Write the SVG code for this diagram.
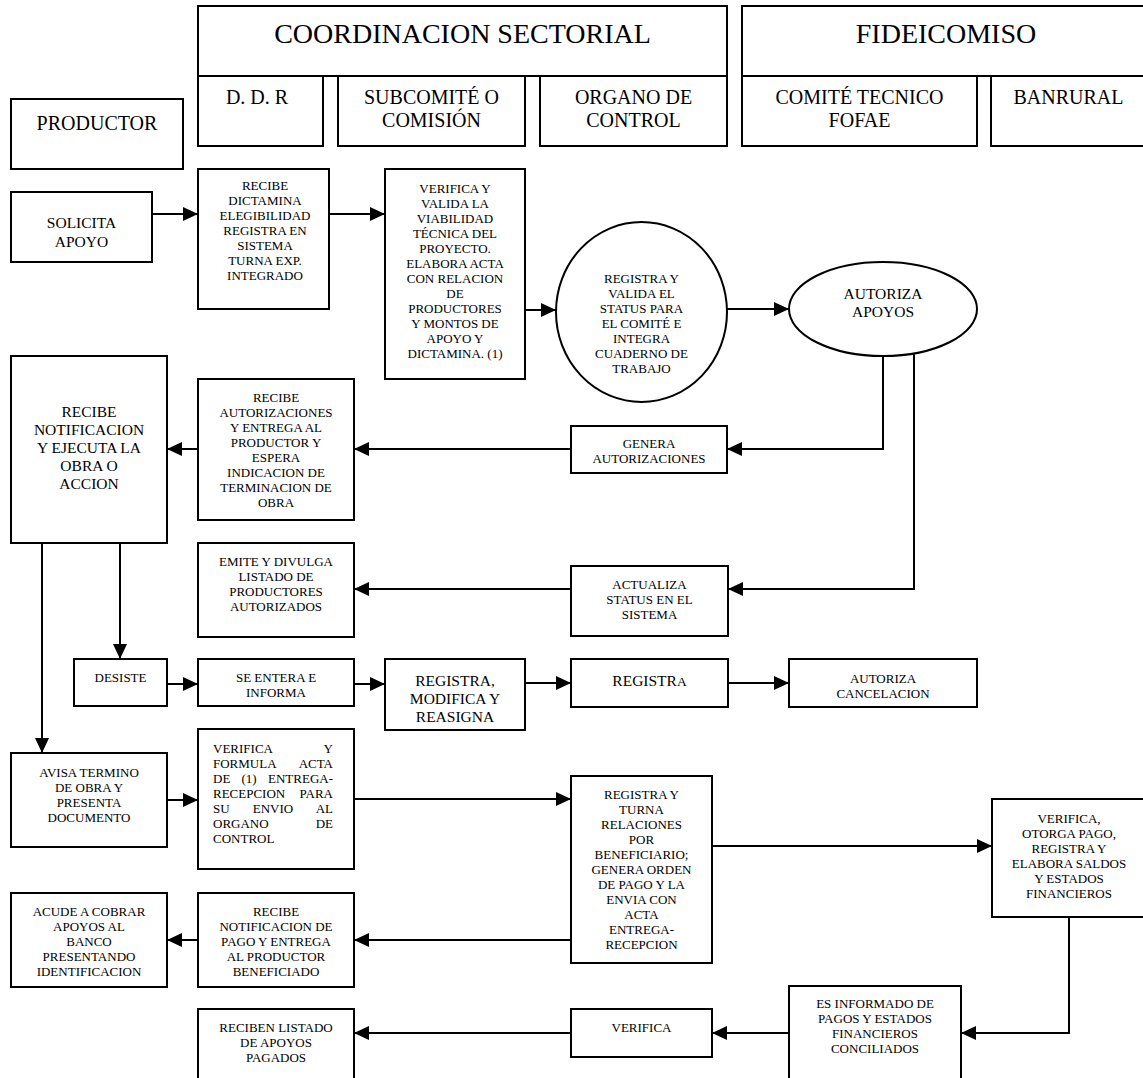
<svg xmlns="http://www.w3.org/2000/svg" width="1143" height="1078" viewBox="0 0 1143 1078">
<style>
.b{fill:#fff;stroke:#000;stroke-width:2}
.c{fill:none;stroke:#000;stroke-width:2;marker-end:url(#arr)}
.l{fill:none;stroke:#000;stroke-width:2}
text{font-family:"Liberation Serif","Times New Roman",serif;fill:#000;text-anchor:middle}
.h1{font-size:28px}
.h2{font-size:20px}
.m{font-size:15.5px}
.s{font-size:13px}
.st{font-size:13px;text-anchor:start}
.en{font-size:13px;text-anchor:end}
</style>
<defs>
<marker id="arr" markerUnits="userSpaceOnUse" markerWidth="16" markerHeight="14" refX="15" refY="7" orient="auto"><path d="M0,0 L15,7 L0,14 Z" fill="#000"/></marker>
</defs>
<rect width="1143" height="1078" fill="#fff"/>

<g id="coordinacion"><rect class="b" x="198" y="6" width="529" height="70"/><text class="h1" x="462.5" y="43">COORDINACION SECTORIAL</text></g>
<g id="ddr"><rect class="b" x="198" y="76" width="125" height="70"/><text class="h2" x="257" y="104">D. D. R</text></g>
<g id="subcomite"><rect class="b" x="338" y="76" width="187" height="70"/><text class="h2"><tspan x="431.5" y="104">SUBCOMITÉ O</tspan><tspan x="431.5" y="127">COMISIÓN</tspan></text></g>
<g id="organo"><rect class="b" x="540" y="76" width="187" height="70"/><text class="h2"><tspan x="633.5" y="104">ORGANO DE</tspan><tspan x="633.5" y="127">CONTROL</tspan></text></g>
<g id="fideicomiso"><rect class="b" x="742" y="6" width="410" height="70"/><text class="h1" x="946" y="43">FIDEICOMISO</text></g>
<g id="comite"><rect class="b" x="742" y="76" width="235" height="70"/><text class="h2"><tspan x="859.5" y="104">COMITÉ TECNICO</tspan><tspan x="859.5" y="127">FOFAE</tspan></text></g>
<g id="banrural"><rect class="b" x="991" y="76" width="160" height="70"/><text class="h2" x="1068.5" y="104">BANRURAL</text></g>
<g id="productor"><rect class="b" x="11" y="99" width="172" height="70"/><text class="h2" x="97" y="130">PRODUCTOR</text></g>

<g id="connectors">
<path class="c" d="M152,214 H198"/>
<path class="c" d="M329,214 H385"/>
<path class="c" d="M525,310 H556"/>
<path class="c" d="M727,309 H789"/>
<path class="c" d="M883,356 V449 H727"/>
<path class="c" d="M914,353 V589 H728"/>
<path class="c" d="M571,449 H354"/>
<path class="c" d="M198,449 H167"/>
<path class="c" d="M571,589 H354"/>
<path class="c" d="M42,543 V753"/>
<path class="c" d="M120,543 V659"/>
<path class="c" d="M167,684 H198"/>
<path class="c" d="M354,684 H385"/>
<path class="c" d="M525,683 H571"/>
<path class="c" d="M728,683 H789"/>
<path class="c" d="M167,800 H198"/>
<path class="c" d="M354,799 H571"/>
<path class="c" d="M712,846 H992"/>
<path class="c" d="M571,940 H354"/>
<path class="c" d="M198,940 H167"/>
<path class="c" d="M1069,917 V1033 H961"/>
<path class="c" d="M789,1033 H712"/>
<path class="c" d="M571,1033 H354"/>
</g>

<g id="solicita"><rect class="b" x="11" y="192" width="141" height="70"/><text class="m"><tspan x="81.5" y="228">SOLICITA</tspan><tspan x="81.5" y="247">APOYO</tspan></text></g>

<g id="recibe-dictamina"><rect class="b" x="198" y="169" width="131" height="140"/><text class="s">
<tspan x="265" y="190">RECIBE</tspan><tspan x="265" y="205">DICTAMINA</tspan><tspan x="265" y="220">ELEGIBILIDAD</tspan><tspan x="265" y="235">REGISTRA EN</tspan><tspan x="265" y="250">SISTEMA</tspan><tspan x="265" y="265">TURNA EXP.</tspan><tspan x="265" y="280">INTEGRADO</tspan></text></g>

<g id="verifica-valida"><rect class="b" x="385" y="169" width="140" height="210"/><text class="s">
<tspan x="455" y="193">VERIFICA Y</tspan><tspan x="455" y="208">VALIDA LA</tspan><tspan x="455" y="223">VIABILIDAD</tspan><tspan x="455" y="238">TÉCNICA DEL</tspan><tspan x="455" y="253">PROYECTO.</tspan><tspan x="455" y="268">ELABORA ACTA</tspan><tspan x="455" y="283">CON RELACION</tspan><tspan x="455" y="298">DE</tspan><tspan x="455" y="313">PRODUCTORES</tspan><tspan x="455" y="328">Y MONTOS DE</tspan><tspan x="455" y="343">APOYO Y</tspan><tspan x="455" y="358">DICTAMINA. (1)</tspan></text></g>

<g id="registra-valida"><ellipse class="b" cx="641.5" cy="312" rx="85.5" ry="90"/><text class="s">
<tspan x="641.5" y="283">REGISTRA Y</tspan><tspan x="641.5" y="298">VALIDA EL</tspan><tspan x="641.5" y="313">STATUS PARA</tspan><tspan x="641.5" y="328">EL COMITÉ E</tspan><tspan x="641.5" y="343">INTEGRA</tspan><tspan x="641.5" y="358">CUADERNO DE</tspan><tspan x="641.5" y="373">TRABAJO</tspan></text></g>

<g id="autoriza-apoyos"><ellipse class="b" cx="883" cy="309" rx="94" ry="47"/><text class="m"><tspan x="883" y="299">AUTORIZA</tspan><tspan x="883" y="317">APOYOS</tspan></text></g>

<g id="genera"><rect class="b" x="571" y="426" width="156" height="47"/><text class="s"><tspan x="649" y="448">GENERA</tspan><tspan x="649" y="463">AUTORIZACIONES</tspan></text></g>

<g id="recibe-autorizaciones"><rect class="b" x="198" y="379" width="156" height="141"/><text class="s">
<tspan x="276" y="402">RECIBE</tspan><tspan x="276" y="417">AUTORIZACIONES</tspan><tspan x="276" y="432">Y ENTREGA AL</tspan><tspan x="276" y="447">PRODUCTOR Y</tspan><tspan x="276" y="462">ESPERA</tspan><tspan x="276" y="477">INDICACION DE</tspan><tspan x="276" y="492">TERMINACION DE</tspan><tspan x="276" y="507">OBRA</tspan></text></g>

<g id="recibe-notificacion"><rect class="b" x="11" y="356" width="156" height="187"/><text class="m">
<tspan x="89" y="417">RECIBE</tspan><tspan x="89" y="435">NOTIFICACION</tspan><tspan x="89" y="453">Y EJECUTA LA</tspan><tspan x="89" y="471">OBRA O</tspan><tspan x="89" y="489">ACCION</tspan></text></g>

<g id="actualiza"><rect class="b" x="571" y="566" width="157" height="70"/><text class="s"><tspan x="649.5" y="589">ACTUALIZA</tspan><tspan x="649.5" y="604">STATUS EN EL</tspan><tspan x="649.5" y="619">SISTEMA</tspan></text></g>

<g id="emite"><rect class="b" x="198" y="543" width="156" height="94"/><text class="s"><tspan x="276" y="566">EMITE Y DIVULGA</tspan><tspan x="276" y="581">LISTADO DE</tspan><tspan x="276" y="596">PRODUCTORES</tspan><tspan x="276" y="611">AUTORIZADOS</tspan></text></g>

<g id="desiste"><rect class="b" x="74" y="659" width="93" height="47"/><text class="s" x="120.5" y="682">DESISTE</text></g>

<g id="se-entera"><rect class="b" x="198" y="659" width="156" height="47"/><text class="s"><tspan x="276" y="682">SE ENTERA E</tspan><tspan x="276" y="697">INFORMA</tspan></text></g>

<g id="registra-modifica"><rect class="b" x="385" y="659" width="140" height="71"/><text class="m"><tspan x="455" y="686">REGISTRA,</tspan><tspan x="455" y="704">MODIFICA Y</tspan><tspan x="455" y="722">REASIGNA</tspan></text></g>

<g id="registra"><rect class="b" x="571" y="659" width="157" height="48"/><text class="m" x="649.5" y="686">REGISTR<tspan font-size="13.5px">A</tspan></text></g>

<g id="autoriza-cancelacion"><rect class="b" x="789" y="659" width="188" height="48"/><text class="s"><tspan x="883" y="683">AUTORIZA</tspan><tspan x="883" y="698">CANCELACION</tspan></text></g>

<g id="avisa"><rect class="b" x="11" y="753" width="156" height="94"/><text class="s"><tspan x="89" y="777">AVISA TERMINO</tspan><tspan x="89" y="792">DE OBRA Y</tspan><tspan x="89" y="807">PRESENTA</tspan><tspan x="89" y="822">DOCUMENTO</tspan></text></g>

<g id="verifica-formula"><rect class="b" x="198" y="729" width="156" height="140"/>
<text class="st" x="213" y="753">VERIFICA</text><text class="en" x="333" y="753">Y</text>
<text class="st" x="213" y="768">FORMULA</text><text class="en" x="333" y="768">ACTA</text>
<text class="st" x="213" y="783">DE</text><text class="s" x="249" y="783">(1)</text><text class="en" x="333" y="783">ENTREGA-</text>
<text class="st" x="213" y="798">RECEPCION</text><text class="en" x="333" y="798">PARA</text>
<text class="st" x="213" y="813">SU</text><text class="s" x="273" y="813">ENVIO</text><text class="en" x="333" y="813">AL</text>
<text class="st" x="213" y="828">ORGANO</text><text class="en" x="333" y="828">DE</text>
<text class="st" x="213" y="843">CONTROL</text>
</g>

<g id="registra-turna"><rect class="b" x="571" y="776" width="141" height="187"/><text class="s">
<tspan x="641.5" y="799">REGISTRA Y</tspan><tspan x="641.5" y="814">TURNA</tspan><tspan x="641.5" y="829">RELACIONES</tspan><tspan x="641.5" y="844">POR</tspan><tspan x="641.5" y="859">BENEFICIARIO;</tspan><tspan x="641.5" y="874">GENERA ORDEN</tspan><tspan x="641.5" y="889">DE PAGO Y LA</tspan><tspan x="641.5" y="904">ENVIA CON</tspan><tspan x="641.5" y="919">ACTA</tspan><tspan x="641.5" y="934">ENTREGA-</tspan><tspan x="641.5" y="949">RECEPCION</tspan></text></g>

<g id="verifica-otorga"><rect class="b" x="992" y="799" width="155" height="118"/><text class="s">
<tspan x="1069" y="823">VERIFICA,</tspan><tspan x="1069" y="838">OTORGA PAGO,</tspan><tspan x="1069" y="853">REGISTRA Y</tspan><tspan x="1069" y="868">ELABORA SALDOS</tspan><tspan x="1069" y="883">Y ESTADOS</tspan><tspan x="1069" y="898">FINANCIEROS</tspan></text></g>

<g id="es-informado"><rect class="b" x="789" y="986" width="172" height="100"/><text class="s">
<tspan x="875" y="1008">ES INFORMADO DE</tspan><tspan x="875" y="1023">PAGOS Y ESTADOS</tspan><tspan x="875" y="1038">FINANCIEROS</tspan><tspan x="875" y="1053">CONCILIADOS</tspan></text></g>

<g id="verifica-final"><rect class="b" x="571" y="1009" width="141" height="48"/><text class="s" x="641.5" y="1032">VERIFICA</text></g>

<g id="reciben-listado"><rect class="b" x="198" y="1009" width="156" height="80"/><text class="s"><tspan x="276" y="1032">RECIBEN LISTADO</tspan><tspan x="276" y="1047">DE APOYOS</tspan><tspan x="276" y="1062">PAGADOS</tspan></text></g>

<g id="recibe-pago"><rect class="b" x="198" y="893" width="156" height="94"/><text class="s">
<tspan x="276" y="916">RECIBE</tspan><tspan x="276" y="931">NOTIFICACION DE</tspan><tspan x="276" y="946">PAGO Y ENTREGA</tspan><tspan x="276" y="961">AL PRODUCTOR</tspan><tspan x="276" y="976">BENEFICIADO</tspan></text></g>

<g id="acude"><rect class="b" x="11" y="893" width="156" height="94"/><text class="s">
<tspan x="89" y="916">ACUDE A COBRAR</tspan><tspan x="89" y="931">APOYOS AL</tspan><tspan x="89" y="946">BANCO</tspan><tspan x="89" y="961">PRESENTANDO</tspan><tspan x="89" y="976">IDENTIFICACION</tspan></text></g>
</svg>
